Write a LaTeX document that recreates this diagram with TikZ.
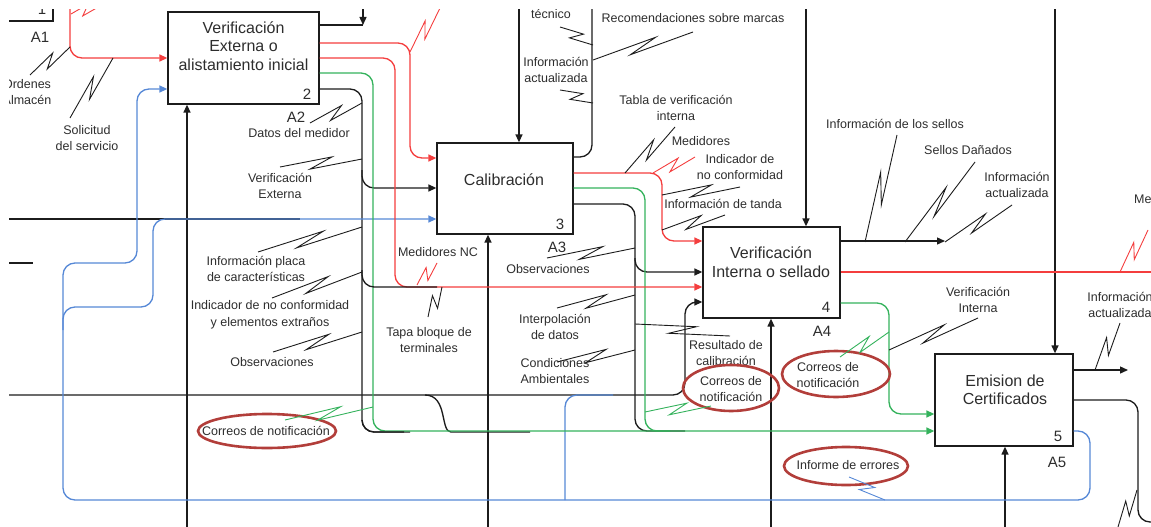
\documentclass[tikz,border=0pt]{standalone}
\usepackage{fontspec}
\setmainfont{Liberation Sans}
\usetikzlibrary{calc,arrows.meta}
\definecolor{ink}{RGB}{28,28,28}
\definecolor{txt}{RGB}{45,45,45}
\definecolor{flowred}{RGB}{244,62,62}
\definecolor{flowgreen}{RGB}{52,178,92}
\definecolor{flowblue}{RGB}{86,136,214}
\definecolor{markred}{RGB}{178,62,58}

% IDEF0 squiggle: a line with a small backward zig in the middle
\newcommand{\zz}[3][ink]{%
  \draw[zig,draw=#1] #2 -- ($#2!0.64!#3!5pt!90:#3$) -- ($#2!0.36!#3!5pt!-90:#3$) -- #3;}

\begin{document}
\begin{tikzpicture}[x=1pt,y=-1pt,
  every node/.style={text=txt, inner sep=0pt, align=center, font=\fontsize{12.5}{16.5}\selectfont},
  proc/.style={draw=ink, line width=1.3pt},
  title/.style={font=\fontsize{16}{18.5}\selectfont},
  tag/.style={font=\fontsize{15}{18}\selectfont},
  flow/.style={draw=ink, line width=1.35pt, rounded corners=12pt},
  rflow/.style={flow, draw=flowred},
  gflow/.style={flow, draw=flowgreen},
  bflow/.style={flow, draw=flowblue},
  tip/.style={-{Triangle[length=8pt,width=7pt]}},
  zig/.style={line width=0.9pt},
  markring/.style={draw=markred, line width=2.6pt}]
\useasboundingbox (0,0) rectangle (1151,527);
\begin{scope}
\clip (9,10) rectangle (1151,527);

% activity boxes
\node[proc, minimum width=151pt, minimum height=92pt] (b2) at (243.5,58) {};
\node[proc, minimum width=136pt, minimum height=91pt] (b3) at (505,188.5) {};
\node[proc, minimum width=137pt, minimum height=91pt] (b4) at (771.5,272.5) {};
\node[proc, minimum width=138pt, minimum height=92pt] (b5) at (1004,400) {};

\node[title] (t2) at (243.5,46) {Verificación\\Externa o\\alistamiento inicial};
\node[title] (t3) at (504,180) {Calibración};
\node[title] (t4) at (771,262) {Verificación\\Interna o sellado};
\node[title] (t5) at (1005,390) {Emision de\\Certificados};

\node[tag] (n2) at (307,94) {2};
\node[tag] (n3) at (560,224) {3};
\node[tag] (n4) at (826,307) {4};
\node[tag] (n5) at (1058,436) {5};
\node[tag] (a2) at (296,117) {A2};
\node[tag] (a3) at (557,247) {A3};
\node[tag] (a4) at (822,331) {A4};
\node[tag] (a5) at (1057,462) {A5};

% corner of the previous activity
\draw[line width=1.3pt, draw=ink] (9,21) -- (53,21) -- (53,0);
\node[tag, anchor=base] (n1) at (42,15) {1};
\node[tag] (a1) at (40,37) {A1};

% black arrows
\draw[flow,tip] (187,527) -- (187,0 |- b2.south);
\draw[flow,tip] (363,0) -- (363,25);
\draw[flow] (b2.east |- 0,25) -- (363,25);
\draw[flow] (b2.east |- 0,89) -- (362,89) -- (362,432) -- (410,432);
\draw[flow,tip] (362,170) -- (362,188) -- (b3.west |- 0,188);
\draw[flow] (425,395) .. controls (448,395) and (440,432) .. (463,432) -- (530,432);
\draw[flow] (9,219) -- (300,219);
\draw[flow] (9,263) -- (33,263);
\draw[flow,tip] (9,395) -- (685,395) -- (685,302) -- (b4.west |- 0,302);

\draw[flow,tip] (519,0) -- (519,0 |- b3.north);
\draw[flow,tip] (488,527) -- (488,0 |- b3.south);
\draw[flow] (b3.east |- 0,157) -- (592,157) -- (592,0);
\draw[flow] (b3.east |- 0,204) -- (635,204) -- (635,431) -- (685,431);
\draw[flow,tip] (635,258) -- (635,272) -- (b4.west |- 0,272);

\draw[flow,tip] (806,0) -- (806,0 |- b4.north);
\draw[flow,tip] (771,527) -- (771,0 |- b4.south);
\draw[flow,tip] (b4.east |- 0,241) -- (945,241);

\draw[flow,tip] (1055,0) -- (1055,0 |- b5.north);
\draw[flow,tip] (1005,527) -- (1005,0 |- b5.south);
\draw[flow,tip] (b5.east |- 0,370) -- (1128,370);
\draw[flow] (b5.east |- 0,400) -- (1138,400) -- (1138,522) -- (1180,522);

% blue arrows
\draw[bflow,tip] (b5.east |- 0,431) -- (1090,431) -- (1090,500) -- (63,500) -- (63,263) -- (137,263) -- (137,89) -- (b2.west |- 0,89);
\draw[bflow,tip] (63,330) -- (63,307) -- (153,307) -- (153,219) -- (b3.west |- 0,219);
\draw[bflow] (565,500) -- (565,395) -- (613,395);

% green arrows
\draw[gflow,tip] (b2.east |- 0,73) -- (373,73) -- (373,431) -- (b5.west |- 0,431);
\draw[gflow] (b3.east |- 0,188) -- (645,188) -- (645,431) -- (670,431);
\draw[gflow,tip] (b4.east |- 0,303) -- (889,303) -- (889,414) -- (b5.west |- 0,414);

% red arrows
\draw[rflow,tip] (70,0) -- (70,58) -- (b2.west |- 0,58);
\draw[rflow,tip] (b2.east |- 0,43) -- (410,43) -- (410,158) -- (b3.west |- 0,158);
\draw[rflow,tip] (b2.east |- 0,58) -- (395,58) -- (395,287) -- (b4.west |- 0,287);
\draw[rflow,tip] (b3.east |- 0,173) -- (662,173) -- (662,241) -- (b4.west |- 0,241);
\draw[rflow] (b4.east |- 0,272) -- (1160,272);

% black segments lying over the coloured ones
\draw[flow] (362,270) -- (362,287) -- (437,287);
\draw[flow] (362,420) -- (362,432) -- (404,432);

% labels
\node (ordenes) at (27,92) {Ordenes\\Almacén};
\node (solicitud) at (87,138) {Solicitud\\del servicio};
\node (tecnico) at (551,14) {técnico};
\node (recom) at (693,18) {Recomendaciones sobre marcas};
\node (infact1) at (556,70) {Información\\actualizada};
\node (tabla) at (676,108) {Tabla de verificación\\interna};
\node (medid) at (701,141) {Medidores};
\node (indic) at (740,167) {Indicador de\\no conformidad};
\node (tanda) at (723,204) {Información de tanda};
\node (sellos) at (895,124) {Información de los sellos};
\node (danados) at (968,150) {Sellos Dañados};
\node (infact2) at (1017,185) {Información\\actualizada};
\node[anchor=west] (medid2) at (1134,199) {Medidores};
\node (datos) at (299,133) {Datos del medidor};
\node (verext) at (280,186) {Verificación\\Externa};
\node (placa) at (256,269) {Información placa\\de características};
\node (indic2) at (270,315) {Indicador de no conformidad\\y elementos extraños};
\node (obs1) at (272,362) {Observaciones};
\node (mednc) at (438,252) {Medidores NC};
\node (tapa) at (429,340) {Tapa bloque de\\terminales};
\node (obs2) at (548,269) {Observaciones};
\node (interp) at (555,327) {Interpolación\\de datos};
\node (cond) at (555,371) {Condiciones\\Ambientales};
\node (result) at (726,353) {Resultado de\\calibración};
\node (verint) at (978,300) {Verificación\\Interna};
\node (infact3) at (1120,305) {Información\\actualizada};
\node (correo1) at (266,431) {Correos de notificación};
\node (correo2) at (731,389) {Correos de\\notificación};
\node (correo3) at (828,375) {Correos de\\notificación};
\node (informe) at (848,465) {Informe de errores};

% highlighted labels
\draw[markring] (267,431) ellipse [x radius=69, y radius=17];
\draw[markring] (731,388) ellipse [x radius=48, y radius=23];
\draw[markring] (836,374) ellipse [x radius=54, y radius=23];
\draw[markring] (846,466) ellipse [x radius=62, y radius=19];

% squiggles tying labels to arrows
\zz{(70,47)}{(30,75)}
\zz{(113,58)}{(70,118)}
\zz{(362,103)}{(310,123)}
\zz{(362,159)}{(280,167)}
\zz{(362,227)}{(258,252)}
\zz{(362,272)}{(272,298)}
\zz{(362,332)}{(273,352)}
\zz{(442,287)}{(428,317)}
\zz{(593,45)}{(560,27)}
\zz{(593,60)}{(693,32)}
\zz{(593,103)}{(560,90)}
\zz{(625,173)}{(675,127)}
\zz{(662,195)}{(740,187)}
\zz{(662,230)}{(725,215)}
\zz{(635,248)}{(547,258)}
\zz{(635,295)}{(557,308)}
\zz{(635,350)}{(557,362)}
\zz{(635,324)}{(730,336)}
\zz{(865,242)}{(897,135)}
\zz{(905,242)}{(975,162)}
\zz{(945,242)}{(1012,205)}
\zz{(889,350)}{(978,318)}
\zz{(1095,370)}{(1120,323)}
\zz{(1137,490)}{(1118,527)}
\zz[flowred]{(71,14)}{(100,6)}
\zz[flowred]{(410,52)}{(440,8)}
\zz[flowred]{(417,285)}{(437,263)}
\zz[flowred]{(653,173)}{(695,157)}
\zz[flowred]{(1120,272)}{(1148,230)}
\zz[flowgreen]{(373,407)}{(285,420)}
\zz[flowgreen]{(645,412)}{(711,406)}
\zz[flowgreen]{(889,332)}{(840,357)}
\zz[flowblue]{(885,500)}{(849,477)}
\end{scope}
\end{tikzpicture}
\end{document}
